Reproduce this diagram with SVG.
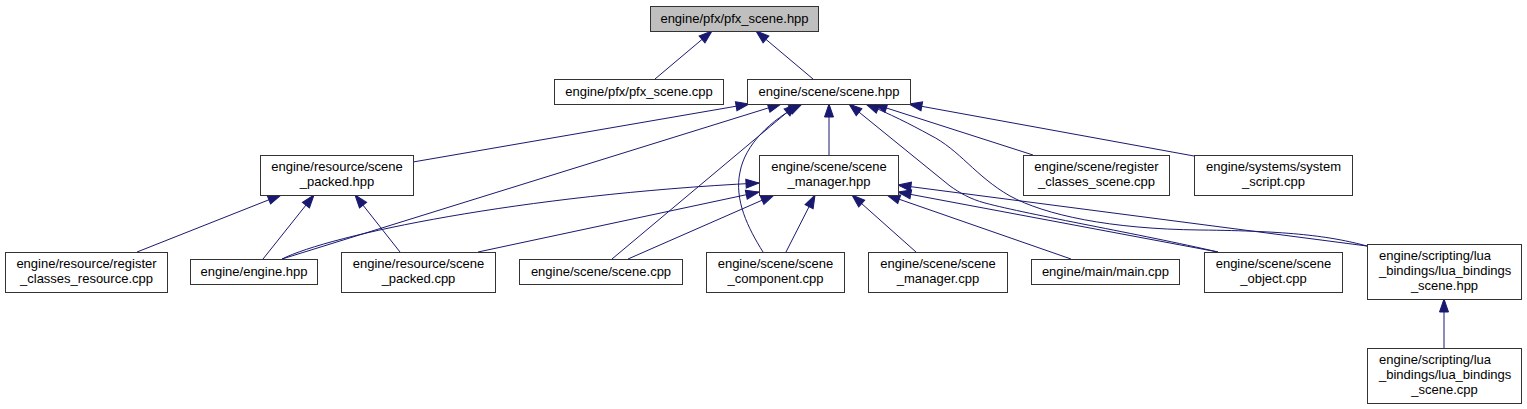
<svg xmlns="http://www.w3.org/2000/svg" width="1527" height="409" viewBox="0 0 1527 409">
<style>
.n rect{fill:#fff;stroke:#333;stroke-width:1}
.n.main rect{fill:#bfbfbf}
.n text{font-family:"Liberation Sans",Arial,sans-serif;font-size:13px;fill:#000;text-anchor:middle}
.n text.l{text-anchor:start}
.e path{fill:none;stroke:#191970;stroke-width:1;marker-end:url(#arr)}
</style>
<defs>
<marker id="arr" markerUnits="userSpaceOnUse" viewBox="0 0 13 9" markerWidth="13" markerHeight="9" refX="13" refY="4.5" orient="auto" overflow="visible">
<path d="M0,0 L13,4.5 L0,9 z" fill="#191970" stroke="#191970" stroke-width="1"/>
</marker>
</defs>
<rect width="1527" height="409" fill="#fff"/>
<g id="edges" class="e">
<path d="M655,79 L712,31"/>
<path d="M813,79 L756,31"/>
<path d="M413,162 L749,104"/>
<path d="M282,259 L781,104"/>
<path d="M282,259 C330,235 520,195 759,183"/>
<path d="M612,259 L797,104"/>
<path d="M628,259 L774,195"/>
<path d="M763,252 C748,228 734,200 740,172 C745,145 770,120 802,104"/>
<path d="M786,252 L815,195"/>
<path d="M829,155 L829,104"/>
<path d="M916,252 L852,195"/>
<path d="M1071,259 L887,195"/>
<path d="M1218,252 L898,192"/>
<path d="M1367,246 L898,185"/>
<path d="M1218,252 C1140,234 1030,215 985,203 C970,199 960,193 950,186 L849,104"/>
<path d="M1367,246 C1330,236 1290,231 1200,230 C1110,229 1045,215 1010,196 C975,176 960,150 930,135 C910,124 890,114 866,104"/>
<path d="M1033,155 L874,104"/>
<path d="M1194,156 L909,104"/>
<path d="M137,252 L281,195"/>
<path d="M263,259 L314,195"/>
<path d="M400,252 L355,195"/>
<path d="M478,252 L759,192"/>
<path d="M1444,348 L1444,299"/>
</g>
<g id="node-pfx_scene_hpp" class="n main"><rect x="650.5" y="6.5" width="168" height="25"/><text x="734.5" y="23">engine/pfx/pfx_scene.hpp</text></g>
<g id="node-pfx_scene_cpp" class="n"><rect x="554.5" y="79.5" width="169" height="25"/><text x="639" y="96">engine/pfx/pfx_scene.cpp</text></g>
<g id="node-scene_hpp" class="n"><rect x="747.5" y="79.5" width="163" height="25"/><text x="829" y="96">engine/scene/scene.hpp</text></g>
<g id="node-scene_packed_hpp" class="n"><rect x="260.5" y="155.5" width="153" height="40"/><text x="337" y="171">engine/resource/scene</text><text x="337" y="186">_packed.hpp</text></g>
<g id="node-scene_manager_hpp" class="n"><rect x="759.5" y="155.5" width="139" height="40"/><text x="829" y="171">engine/scene/scene</text><text x="829" y="186">_manager.hpp</text></g>
<g id="node-register_classes_scene_cpp" class="n"><rect x="1023.5" y="155.5" width="146" height="40"/><text x="1096.5" y="171">engine/scene/register</text><text x="1096.5" y="186">_classes_scene.cpp</text></g>
<g id="node-system_script_cpp" class="n"><rect x="1194.5" y="155.5" width="158" height="40"/><text x="1273.5" y="171">engine/systems/system</text><text x="1273.5" y="186">_script.cpp</text></g>
<g id="node-register_classes_resource_cpp" class="n"><rect x="5.5" y="252.5" width="162" height="40"/><text x="86.5" y="268">engine/resource/register</text><text x="86.5" y="283">_classes_resource.cpp</text></g>
<g id="node-engine_hpp" class="n"><rect x="190.5" y="259.5" width="127" height="25"/><text x="254" y="276">engine/engine.hpp</text></g>
<g id="node-scene_packed_cpp" class="n"><rect x="341.5" y="252.5" width="154" height="40"/><text x="418.5" y="268">engine/resource/scene</text><text x="418.5" y="283">_packed.cpp</text></g>
<g id="node-scene_cpp" class="n"><rect x="519.5" y="259.5" width="163" height="25"/><text x="601" y="276">engine/scene/scene.cpp</text></g>
<g id="node-scene_component_cpp" class="n"><rect x="706.5" y="252.5" width="138" height="40"/><text x="775.5" y="268">engine/scene/scene</text><text x="775.5" y="283">_component.cpp</text></g>
<g id="node-scene_manager_cpp" class="n"><rect x="868.5" y="252.5" width="139" height="40"/><text x="938" y="268">engine/scene/scene</text><text x="938" y="283">_manager.cpp</text></g>
<g id="node-main_cpp" class="n"><rect x="1031.5" y="259.5" width="148" height="25"/><text x="1105.5" y="276">engine/main/main.cpp</text></g>
<g id="node-scene_object_cpp" class="n"><rect x="1204.5" y="252.5" width="138" height="40"/><text x="1273.5" y="268">engine/scene/scene</text><text x="1273.5" y="283">_object.cpp</text></g>
<g id="node-lua_bindings_scene_hpp" class="n"><rect x="1367.5" y="244.5" width="154" height="55"/><text class="l" x="1379" y="260">engine/scripting/lua</text><text class="l" x="1379" y="275">_bindings/lua_bindings</text><text x="1444.5" y="290">_scene.hpp</text></g>
<g id="node-lua_bindings_scene_cpp" class="n"><rect x="1367.5" y="348.5" width="154" height="55"/><text class="l" x="1379" y="364">engine/scripting/lua</text><text class="l" x="1379" y="379">_bindings/lua_bindings</text><text x="1444.5" y="394">_scene.cpp</text></g>
</svg>
